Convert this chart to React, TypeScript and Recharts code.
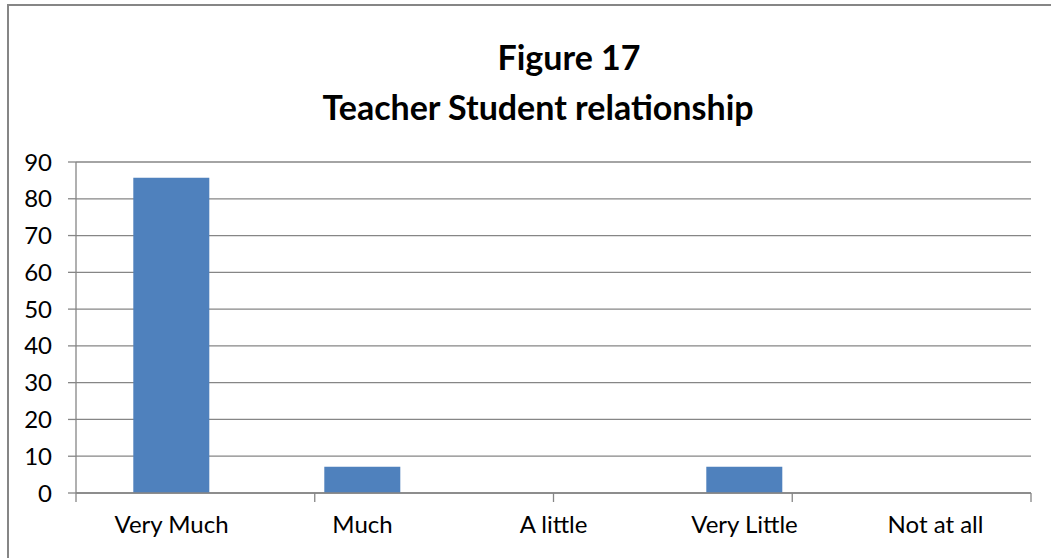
import { BarChart, Bar, XAxis, YAxis, CartesianGrid } from "recharts";

const categories = ["Very Much", "Much", "A little", "Very Little", "Not at all"];
const percentages = [85.71, 7.14, 0, 7.14, 0];
const yTicks = [0, 10, 20, 30, 40, 50, 60, 70, 80, 90];
const bandEdges = [0, 1, 2, 3, 4, 5];

const data = categories.map((name, i) => ({ name, value: percentages[i] }));

const font = "Lato, 'Open Sans', sans-serif";
const gray = "#868686";

const NoLabel = () => <g />;

export default function App() {
  return (
    <div style={{ position: "fixed", left: 0, top: 0, width: 1051, height: 558, background: "#fff", overflow: "hidden", fontFamily: font }}>
      <div style={{ position: "absolute", left: 7, top: 4, width: 1060, height: 570, border: `2px solid ${gray}`, boxSizing: "border-box" }} />
      <div style={{ position: "absolute", left: 0, width: 1076, top: 32, textAlign: "center", fontWeight: 700, fontSize: 34, lineHeight: "50px", color: "#000" }}>
        <div style={{ paddingLeft: 62 }}>Figure 17</div>
        <div>Teacher Student relationship</div>
      </div>
      <div style={{ position: "absolute", left: 0, top: 0 }}>
        <BarChart width={1051} height={558} data={data} margin={{ top: 162, right: 20, bottom: 9, left: 16 }} barCategoryGap="30%">
          <CartesianGrid vertical={false} stroke={gray} strokeWidth={1.3} xAxisId="b_cat" />
          <XAxis
            xAxisId="a_edges"
            type="number"
            domain={[0, 5]}
            ticks={bandEdges}
            interval={0}
            allowDataOverflow
            tick={<NoLabel />}
            tickSize={9}
            height={9}
            stroke={gray}
            strokeWidth={1.3}
          />
          <XAxis
            xAxisId="b_cat"
            dataKey="name"
            axisLine={false}
            tickLine={false}
            tickSize={0}
            tickMargin={14}
            height={47}
            tick={{ fill: "#000", fontSize: 24, fontFamily: font }}
          />
          <YAxis
            domain={[0, 90]}
            ticks={yTicks}
            interval={0}
            width={60}
            tickSize={8}
            tickMargin={16}
            stroke={gray}
            strokeWidth={1.3}
            tick={{ fill: "#000", fontSize: 24, fontFamily: font }}
          />
          <Bar xAxisId="b_cat" dataKey="value" fill="#4F81BD" isAnimationActive={false} />
        </BarChart>
      </div>
    </div>
  );
}
